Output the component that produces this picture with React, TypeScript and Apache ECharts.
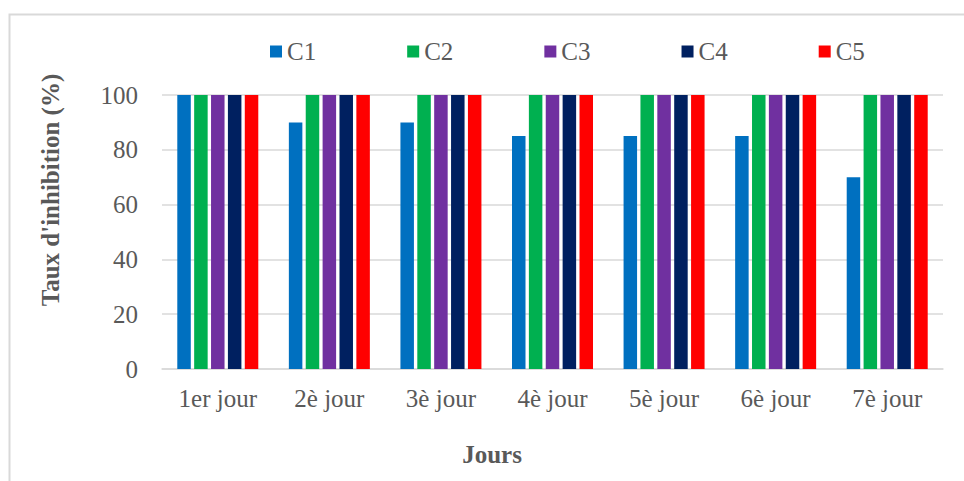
import React, { useEffect, useRef } from "react";
import * as echarts from "echarts";

const days = ["1er jour", "2è jour", "3è jour", "4è jour", "5è jour", "6è jour", "7è jour"];
const seriesNames = ["C1", "C2", "C3", "C4", "C5"];
const c1 = [100, 90, 90, 85, 85, 85, 70];
const c2 = [100, 100, 100, 100, 100, 100, 100];
const c3 = [100, 100, 100, 100, 100, 100, 100];
const c4 = [100, 100, 100, 100, 100, 100, 100];
const c5 = [100, 100, 100, 100, 100, 100, 100];
const seriesColors = ["#0070C0", "#00B050", "#7030A0", "#002060", "#FF0000"];

const FONT = "Liberation Serif";
const TEXT_COLOR = "#595959";

export default function App() {
  const ref = useRef<HTMLDivElement>(null);

  useEffect(() => {
    if (!ref.current) return;
    const chart = echarts.init(ref.current, undefined, { renderer: "svg" });
    const values = [c1, c2, c3, c4, c5];

    chart.setOption({
      animation: false,
      backgroundColor: "#ffffff",
      textStyle: { fontFamily: FONT },
      legend: {
        data: seriesNames,
        left: 270,
        top: 39,
        padding: 0,
        itemWidth: 12,
        itemHeight: 12,
        itemGap: 91,
        icon: "rect",
        textStyle: { fontFamily: FONT, fontSize: 25, color: TEXT_COLOR, lineHeight: 25 },
      },
      grid: { left: 162, right: 21, top: 95, bottom: 112, containLabel: false },
      xAxis: {
        type: "category",
        data: days,
        axisLine: { lineStyle: { color: "#d9d9d9", width: 1.5 } },
        axisTick: { show: false },
        axisLabel: { fontFamily: FONT, fontSize: 25, color: TEXT_COLOR, margin: 17 },
      },
      yAxis: {
        type: "value",
        min: 0,
        max: 100,
        interval: 20,
        axisLine: { show: false },
        axisTick: { show: false },
        splitLine: { lineStyle: { color: "#d9d9d9", width: 1.5 } },
        axisLabel: { fontFamily: FONT, fontSize: 25, color: TEXT_COLOR, margin: 24 },
      },
      graphic: [
        {
          type: "rect",
          left: 7,
          top: 12,
          shape: { width: 1000, height: 500 },
          style: { fill: "none", stroke: "#d9d9d9", lineWidth: 2 },
          silent: true,
          z: -10,
        },
        {
          type: "text",
          x: 50,
          y: 190,
          rotation: Math.PI / 2,
          style: {
            text: "Taux d'inhibition (%)",
            fontFamily: FONT,
            fontSize: 25,
            fontWeight: "bold",
            fill: TEXT_COLOR,
            align: "center",
            verticalAlign: "middle",
          },
        },
        {
          type: "text",
          x: 492,
          y: 454,
          style: {
            text: "Jours",
            fontFamily: FONT,
            fontSize: 25,
            fontWeight: "bold",
            fill: TEXT_COLOR,
            align: "center",
            verticalAlign: "middle",
          },
        },
      ],
      series: seriesNames.map((name, i) => ({
        name,
        type: "bar",
        data: values[i],
        barWidth: 13.5,
        barGap: "25%",
        itemStyle: { color: seriesColors[i] },
      })),
    });

    return () => chart.dispose();
  }, []);

  return (
    <div
      ref={ref}
      style={{ position: "fixed", left: 0, top: 0, width: 964, height: 481 }}
    />
  );
}
